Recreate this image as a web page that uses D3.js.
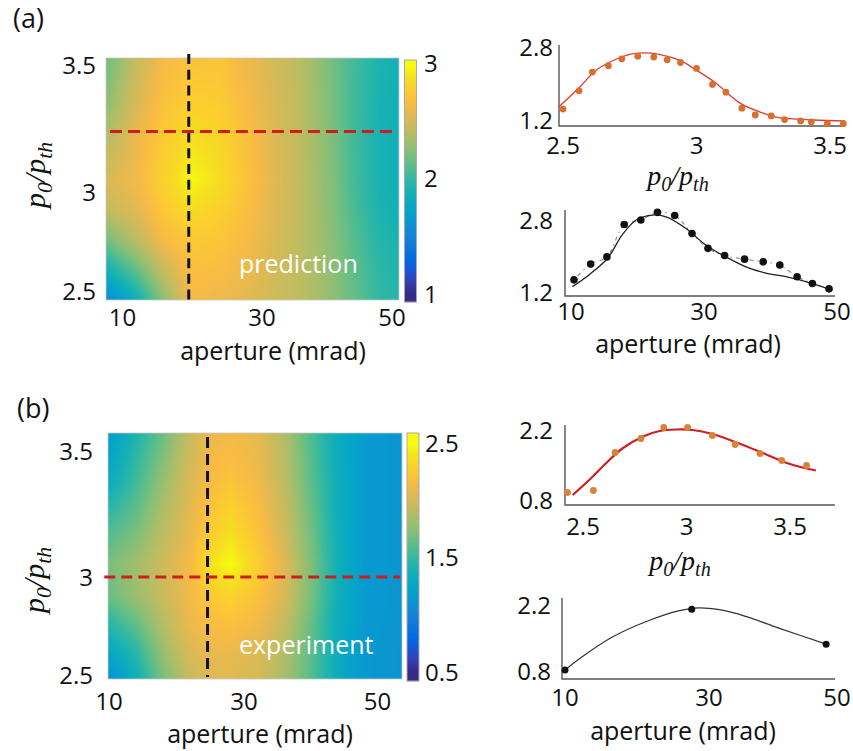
<!DOCTYPE html>
<html>
<head>
<meta charset="utf-8">
<script src="https://cdn.jsdelivr.net/npm/d3@7/dist/d3.min.js"></script>
<style>
  html, body { margin: 0; padding: 0; background: #fff; }
  svg { display: block; }
</style>
</head>
<body>
<svg id="fig" width="853" height="751"></svg>
<script>
// ================= data =================

// (a) predicted map: rows follow p0/pth (top to bottom), columns follow aperture
const mapAAperture = [8, 12, 16, 20, 24, 28, 32, 36, 40, 44, 48, 51];
const mapAP0 = [3.52, 3.35, 3.2, 3.05, 2.9, 2.75, 2.6, 2.45];
const mapAValues = [
  [2.18, 2.45, 2.65, 2.70, 2.72, 2.60, 2.50, 2.40, 2.22, 2.05, 1.92, 1.88],
  [2.28, 2.52, 2.70, 2.78, 2.76, 2.64, 2.52, 2.41, 2.23, 2.05, 1.91, 1.87],
  [2.40, 2.60, 2.76, 2.88, 2.82, 2.68, 2.54, 2.42, 2.25, 2.05, 1.90, 1.86],
  [2.54, 2.62, 2.80, 2.98, 2.86, 2.70, 2.55, 2.42, 2.26, 2.06, 1.90, 1.86],
  [2.42, 2.55, 2.74, 2.84, 2.78, 2.67, 2.54, 2.42, 2.27, 2.08, 1.92, 1.88],
  [2.18, 2.40, 2.64, 2.74, 2.72, 2.64, 2.52, 2.42, 2.28, 2.11, 1.95, 1.91],
  [1.88, 2.12, 2.45, 2.68, 2.66, 2.60, 2.50, 2.42, 2.29, 2.13, 1.98, 1.93],
  [1.55, 1.85, 2.26, 2.64, 2.60, 2.56, 2.48, 2.42, 2.30, 2.15, 2.00, 1.95]
];
const mapAApertureRange = [7.63, 51.12];
const mapAP0Range = [2.452, 3.53];
const mapAColorDomain = [1, 3];
const mapAColorTicks = [1, 2, 3];
const mapACutAperture = 19.5;
const mapACutP0 = 3.24;
const mapALabel = "prediction";

// (b) measured map
const mapBAperture = [10, 14, 18, 22, 25, 28, 32, 36, 40, 44, 48, 54];
const mapBP0 = [3.58, 3.4, 3.2, 3.05, 2.9, 2.75, 2.6, 2.48];
const mapBValues = [
  [1.17, 1.42, 1.65, 1.95, 2.10, 2.12, 2.08, 1.88, 1.58, 1.32, 1.16, 1.12],
  [1.30, 1.52, 1.78, 2.02, 2.15, 2.20, 2.12, 1.92, 1.62, 1.34, 1.16, 1.12],
  [1.56, 1.68, 1.90, 2.08, 2.25, 2.35, 2.20, 1.98, 1.68, 1.36, 1.16, 1.12],
  [1.70, 1.82, 1.98, 2.14, 2.38, 2.50, 2.28, 2.05, 1.72, 1.37, 1.16, 1.12],
  [1.65, 1.80, 1.96, 2.12, 2.25, 2.30, 2.20, 2.02, 1.70, 1.36, 1.16, 1.12],
  [1.45, 1.62, 1.88, 2.10, 2.15, 2.18, 2.12, 1.95, 1.65, 1.34, 1.15, 1.12],
  [1.25, 1.45, 1.78, 2.02, 2.08, 2.08, 2.04, 1.88, 1.62, 1.32, 1.14, 1.12],
  [1.08, 1.35, 1.70, 1.95, 2.04, 2.05, 2.00, 1.85, 1.60, 1.32, 1.14, 1.12]
];
const mapBApertureRange = [9.8, 53.6];
const mapBP0Range = [2.48, 3.574];
const mapBColorDomain = [0.5, 2.5];
const mapBColorTicks = [0.5, 1.5, 2.5];
const mapBCutAperture = 24.6;
const mapBCutP0 = 3.0;
const mapBLabel = "experiment";

const apertureTicks = [10, 30, 50];
const p0Ticks = [2.5, 3, 3.5];

// (a) cut along p0/pth
const a1P0 = [2.50, 2.56, 2.61, 2.67, 2.72, 2.78, 2.84, 2.89, 2.94, 3.00, 3.06, 3.11, 3.17, 3.22, 3.28, 3.33, 3.39, 3.43, 3.49, 3.55];
const a1Value = [1.44, 1.84, 2.25, 2.39, 2.54, 2.60, 2.58, 2.52, 2.46, 2.33, 1.98, 1.81, 1.46, 1.31, 1.29, 1.21, 1.18, 1.16, 1.12, 1.12];
const a1FitP0 = [2.485, 2.564, 2.626, 2.69, 2.75, 2.80, 2.86, 2.94, 3.0, 3.07, 3.163, 3.25, 3.31, 3.44, 3.556];
const a1FitValue = [1.49, 1.93, 2.30, 2.51, 2.64, 2.67, 2.64, 2.50, 2.29, 2.02, 1.57, 1.35, 1.25, 1.20, 1.18];
const a1YTicks = [1.2, 2.8];
const a1XTicks = [2.5, 3, 3.5];

// (a) cut along aperture
const a2Aperture = [10.45, 12.96, 15.4, 18.0, 20.5, 23.0, 25.6, 28.2, 30.6, 33.1, 36.1, 38.9, 41.4, 44.0, 46.3, 48.8];
const a2Value = [1.47, 1.82, 1.98, 2.70, 2.80, 2.97, 2.90, 2.50, 2.17, 2.01, 1.93, 1.87, 1.80, 1.54, 1.39, 1.27];
const a2FitAperture = [10.2, 12.7, 15.5, 17.7, 19.8, 22.3, 24.3, 27.3, 30.3, 33.3, 36.3, 39.3, 42.3, 45.3, 49.3];
const a2FitValue = [1.32, 1.58, 1.95, 2.47, 2.80, 2.91, 2.87, 2.61, 2.24, 1.98, 1.76, 1.62, 1.54, 1.43, 1.24];
const a2YTicks = [1.2, 2.8];

// (b) cut along p0/pth
const b1P0 = [2.425, 2.55, 2.655, 2.78, 2.89, 3.005, 3.125, 3.235, 3.355, 3.46, 3.58];
const b1Value = [0.95, 0.99, 1.75, 2.03, 2.25, 2.25, 2.09, 1.91, 1.73, 1.59, 1.49];
const b1FitP0 = [2.45, 2.53, 2.61, 2.69, 2.79, 2.87, 2.95, 3.03, 3.125, 3.255, 3.38, 3.5, 3.625];
const b1FitValue = [0.90, 1.20, 1.53, 1.83, 2.07, 2.18, 2.21, 2.20, 2.12, 1.93, 1.72, 1.52, 1.39];
const b1YTicks = [0.8, 2.2];

// (b) cut along aperture
const b2Aperture = [10, 27.6, 48.3];
const b2Value = [0.82, 2.11, 1.37];
const b2FitAperture = [10, 12.1, 16.7, 21.3, 25.9, 28.6, 31.6, 35.7, 40.9, 48.3];
const b2FitValue = [0.82, 1.07, 1.53, 1.85, 2.08, 2.14, 2.10, 1.96, 1.71, 1.37];
const b2YTicks = [0.8, 2.2];

// ================= drawing =================
const svg = d3.select("#fig");
const SANS = '"Open Sans", "DejaVu Sans", sans-serif';
const SERIF = '"Liberation Serif", "Times New Roman", serif';
const FS = 24;      // tick labels
const FS_T = 25;    // axis titles

// MATLAB-style parula colour map
const parulaT = [0, 4, 7, 10, 14, 17, 21, 24, 28, 31, 35, 38, 42, 45, 49, 52, 56, 59, 63].map(i => i / 63);
const parulaC = ["#352a87", "#3243ba", "#0f5cdd", "#046de0", "#127dd8", "#1389d3", "#079ccf", "#06a7c6",
  "#15b1b4", "#2eb7a4", "#59bd8c", "#7cbf7b", "#a5be6b", "#c0bc60", "#e1b952", "#f8bb44",
  "#fcce2e", "#f5de21", "#f9fb0e"];
function colormap([lo, hi]) {
  return d3.scaleLinear()
    .domain(parulaT.map(t => lo + t * (hi - lo)))
    .range(parulaC)
    .interpolate(d3.interpolateRgb)
    .clamp(true);
}

// bilinear lookup in a grid whose columns ascend and rows descend
function gridValue(xs, ys, vals, x, y) {
  const cx = Math.max(xs[0], Math.min(xs[xs.length - 1], x));
  const cy = Math.max(ys[ys.length - 1], Math.min(ys[0], y));
  let i = d3.bisectRight(xs, cx) - 1;
  i = Math.max(0, Math.min(xs.length - 2, i));
  let j = 0;
  while (j < ys.length - 2 && cy < ys[j + 1]) j++;
  const tx = (cx - xs[i]) / (xs[i + 1] - xs[i]);
  const ty = (ys[j] - cy) / (ys[j] - ys[j + 1]);
  const top = vals[j][i] * (1 - tx) + vals[j][i + 1] * tx;
  const bot = vals[j + 1][i] * (1 - tx) + vals[j + 1][i + 1] * tx;
  return top * (1 - ty) + bot * ty;
}

function text(g, x, y, str, opts = {}) {
  return g.append("text")
    .attr("x", x).attr("y", y)
    .attr("text-anchor", opts.anchor || "middle")
    .attr("dy", opts.dy === undefined ? "0.36em" : opts.dy)
    .style("font-family", opts.family || SANS)
    .style("font-size", (opts.size || FS) + "px")
    .style("fill", opts.fill || "#111")
    .text(str);
}

// italic p0/pth label
function p0Title(g, x, y, size, rotate) {
  const t = g.append("text")
    .attr("transform", `translate(${x},${y})` + (rotate ? " rotate(-90)" : ""))
    .attr("text-anchor", "middle")
    .style("font-family", SERIF).style("font-style", "italic")
    .style("font-size", size + "px").style("fill", "#111");
  t.append("tspan").text("p");
  t.append("tspan").attr("dy", size * 0.22).style("font-size", (size * 0.72) + "px").text("0");
  t.append("tspan").attr("dy", -size * 0.22).text("/p");
  t.append("tspan").attr("dy", size * 0.22).style("font-size", (size * 0.72) + "px").text("th");
}

function drawMap(cfg) {
  const g = svg.append("g");
  const { x, y, color } = cfg;
  const px0 = Math.round(x(cfg.apRange[0])), px1 = Math.round(x(cfg.apRange[1]));
  const py0 = Math.round(y(cfg.p0Range[1])), py1 = Math.round(y(cfg.p0Range[0]));
  const w = px1 - px0, h = py1 - py0;

  const cv = document.createElement("canvas");
  cv.width = w; cv.height = h;
  const ctx = cv.getContext("2d");
  const img = ctx.createImageData(w, h);
  for (let r = 0; r < h; r++) {
    const pv = y.invert(py0 + r + 0.5);
    for (let c = 0; c < w; c++) {
      const av = x.invert(px0 + c + 0.5);
      const col = d3.rgb(color(gridValue(cfg.aperture, cfg.p0, cfg.values, av, pv)));
      const k = (r * w + c) * 4;
      img.data[k] = col.r; img.data[k + 1] = col.g; img.data[k + 2] = col.b; img.data[k + 3] = 255;
    }
  }
  ctx.putImageData(img, 0, 0);
  g.append("image")
    .attr("x", px0).attr("y", py0).attr("width", w).attr("height", h)
    .attr("preserveAspectRatio", "none")
    .attr("href", cv.toDataURL());
  g.append("rect")
    .attr("x", px0).attr("y", py0).attr("width", w).attr("height", h)
    .attr("fill", "none").attr("stroke", "#c8c8c8").attr("stroke-width", 0.8);

  // in-plot label
  text(g, cfg.labelX, cfg.labelY, cfg.label, { anchor: "start", fill: "#fff", dy: 0, size: 25 });

  // cut lines
  g.append("line")
    .attr("x1", x(cfg.cutAp)).attr("x2", x(cfg.cutAp))
    .attr("y1", y(cfg.vCutSpan[1])).attr("y2", y(cfg.vCutSpan[0]))
    .attr("stroke", "#111").attr("stroke-width", 3).attr("stroke-dasharray", cfg.vDash);
  g.append("line")
    .attr("x1", x(cfg.hCutSpan[0])).attr("x2", x(cfg.hCutSpan[1]))
    .attr("y1", y(cfg.cutP0)).attr("y2", y(cfg.cutP0))
    .attr("stroke", "#cf1d1d").attr("stroke-width", 3).attr("stroke-dasharray", cfg.hDash);

  // tick labels
  apertureTicks.forEach(v => text(g, x(v), cfg.xLabelY, String(v)));
  p0Ticks.forEach(v => text(g, cfg.yLabelX, y(v), String(v), { anchor: "end" }));
  text(g, cfg.xTitle[0], cfg.xTitle[1], "aperture (mrad)", { dy: 0, size: FS_T });
  p0Title(g, cfg.yTitle[0], cfg.yTitle[1], 30, true);

  // colour bar
  const cb = cfg.cbar;
  const cy0 = Math.round(cb.scale(cb.range[1])), cy1 = Math.round(cb.scale(cb.range[0]));
  for (let yy = cy0; yy < cy1; yy++) {
    g.append("rect")
      .attr("x", cb.x0).attr("y", yy).attr("width", cb.x1 - cb.x0).attr("height", 1.2)
      .attr("fill", color(cb.scale.invert(yy + 0.5)));
  }
  g.append("rect")
    .attr("x", cb.x0).attr("y", cy0).attr("width", cb.x1 - cb.x0).attr("height", cy1 - cy0)
    .attr("fill", "none").attr("stroke", "#a9a9a9").attr("stroke-width", 1);
  cb.ticks.forEach(v => text(g, cb.labelX, cb.scale(v), cb.fmt(v), { anchor: "start" }));
}

function drawProfile(cfg) {
  const g = svg.append("g");
  const { x, y } = cfg;
  // axis lines
  g.append("path")
    .attr("d", `M${x(cfg.xAxis[0])},${y(cfg.yAxis[1])}V${y(cfg.yAxis[0])}H${x(cfg.xAxis[1])}`)
    .attr("fill", "none").attr("stroke", "#555").attr("stroke-width", 1.4);

  const line = d3.line().x(d => x(d[0])).y(d => y(d[1])).curve(d3.curveCatmullRom.alpha(0.5));

  if (cfg.guide) {
    g.append("path")
      .attr("d", line(d3.zip(cfg.dotsX, cfg.dotsY)))
      .attr("fill", "none").attr("stroke", "#8a8a8a").attr("stroke-width", 1.1)
      .attr("stroke-dasharray", "1.5,4,4,4");
  }
  g.append("path")
    .attr("d", line(d3.zip(cfg.fitX, cfg.fitY)))
    .attr("fill", "none").attr("stroke", cfg.fitColor).attr("stroke-width", cfg.fitWidth);

  g.selectAll(null).data(d3.zip(cfg.dotsX, cfg.dotsY)).join("circle")
    .attr("cx", d => x(d[0])).attr("cy", d => y(d[1])).attr("r", cfg.dotR)
    .attr("fill", cfg.dotColor);

  cfg.xTicks.forEach(v => text(g, x(v), cfg.xLabelY, String(v)));
  cfg.yTicks.forEach(v => text(g, cfg.yLabelX, y(v), v.toFixed(1), { anchor: "end" }));

  if (cfg.title === "p0") p0Title(g, cfg.titlePos[0], cfg.titlePos[1], 28, false);
  else text(g, cfg.titlePos[0], cfg.titlePos[1], "aperture (mrad)", { dy: 0, size: FS_T });
}

// ----- panel (a) -----
const xA = d3.scaleLinear().domain([10, 30, 50]).range([122.5, 262, 392]);
const yA = d3.scaleLinear().domain([2.5, 3, 3.5]).range([291, 192.5, 65.5]);
drawMap({
  x: xA, y: yA, color: colormap(mapAColorDomain),
  aperture: mapAAperture, p0: mapAP0, values: mapAValues,
  apRange: mapAApertureRange, p0Range: mapAP0Range,
  label: mapALabel, labelX: 239, labelY: 273,
  cutAp: mapACutAperture, cutP0: mapACutP0,
  vCutSpan: [2.43, 3.545], hCutSpan: [8.2, 50.9],
  vDash: "10,5.7", hDash: "12,6",
  xLabelY: 317, yLabelX: 96,
  xTitle: [273, 360], yTitle: [45, 175],
  cbar: {
    scale: d3.scaleLinear().domain([1, 3]).range([294, 63.5]),
    range: [0.93, 3.03], x0: 404.5, x1: 416.5, labelX: 424,
    ticks: mapAColorTicks, fmt: d => String(d)
  }
});

// ----- panel (b) -----
const xB = d3.scaleLinear().domain([10, 30, 50]).range([109, 244, 377.5]);
const yB = d3.scaleLinear().domain([2.5, 3, 3.5]).range([675, 577, 451.5]);
drawMap({
  x: xB, y: yB, color: colormap(mapBColorDomain),
  aperture: mapBAperture, p0: mapBP0, values: mapBValues,
  apRange: mapBApertureRange, p0Range: mapBP0Range,
  label: mapBLabel, labelX: 239, labelY: 654,
  cutAp: mapBCutAperture, cutP0: mapBCutP0,
  vCutSpan: [2.49, 3.558], hCutSpan: [9.3, 53.4],
  vDash: "11,6", hDash: "11,6",
  xLabelY: 701, yLabelX: 93,
  xTitle: [260, 743], yTitle: [44, 580],
  cbar: {
    scale: d3.scaleLinear().domain([0.5, 2.5]).range([672, 443.5]),
    range: [0.42, 2.59], x0: 407, x1: 419, labelX: 425,
    ticks: mapBColorTicks, fmt: d => d.toFixed(1)
  }
});

// ----- profiles -----
drawProfile({
  x: d3.scaleLinear().domain([2.5, 3.5]).range([563, 830]),
  y: d3.scaleLinear().domain([1.2, 2.8]).range([120, 47]),
  xAxis: [2.485, 3.556], yAxis: [1.068, 2.844],
  dotsX: a1P0, dotsY: a1Value, dotColor: "#d6702a", dotR: 3.4,
  fitX: a1FitP0, fitY: a1FitValue, fitColor: "#e23b36", fitWidth: 1.3,
  xTicks: a1XTicks, yTicks: a1YTicks, xLabelY: 145, yLabelX: 553,
  title: "p0", titlePos: [678, 185]
});
drawProfile({
  x: d3.scaleLinear().domain([10, 50]).range([571, 837]),
  y: d3.scaleLinear().domain([1.2, 2.8]).range([292, 220]),
  xAxis: [9.1, 49.7], yAxis: [1.11, 3.02],
  dotsX: a2Aperture, dotsY: a2Value, dotColor: "#111", dotR: 3.8,
  fitX: a2FitAperture, fitY: a2FitValue, fitColor: "#222", fitWidth: 1.3,
  guide: true,
  xTicks: apertureTicks, yTicks: a2YTicks, xLabelY: 311, yLabelX: 553,
  title: "aperture", titlePos: [688, 353]
});
drawProfile({
  x: d3.scaleLinear().domain([2.5, 3.5]).range([583, 790]),
  y: d3.scaleLinear().domain([0.8, 2.2]).range([500, 430]),
  xAxis: [2.413, 3.717], yAxis: [0.7, 2.3],
  dotsX: b1P0, dotsY: b1Value, dotColor: "#d9823a", dotR: 3.4,
  fitX: b1FitP0, fitY: b1FitValue, fitColor: "#d11f1f", fitWidth: 2.2,
  xTicks: a1XTicks, yTicks: b1YTicks, xLabelY: 526, yLabelX: 553,
  title: "p0", titlePos: [680, 570]
});
drawProfile({
  x: d3.scaleLinear().domain([10, 30, 50]).range([565, 709, 837]),
  y: d3.scaleLinear().domain([0.8, 2.2]).range([671, 605]),
  xAxis: [9.58, 49.7], yAxis: [0.63, 2.35],
  dotsX: b2Aperture, dotsY: b2Value, dotColor: "#111", dotR: 3.5,
  fitX: b2FitAperture, fitY: b2FitValue, fitColor: "#333", fitWidth: 1.2,
  xTicks: apertureTicks, yTicks: b2YTicks, xLabelY: 697, yLabelX: 551,
  title: "aperture", titlePos: [683, 740]
});

// panel letters
text(svg, 13, 28, "(a)", { anchor: "start", dy: 0, size: 27 });
text(svg, 17, 418, "(b)", { anchor: "start", dy: 0, size: 27 });
</script>
</body>
</html>
